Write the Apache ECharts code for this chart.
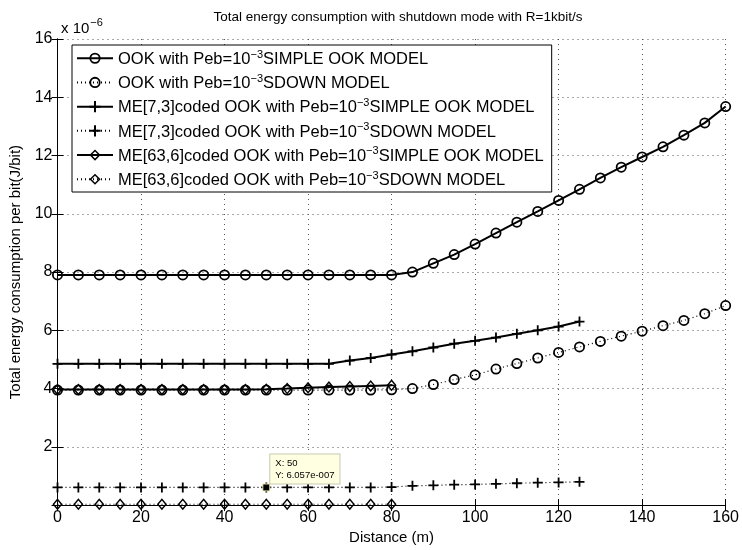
<!DOCTYPE html>
<html>
<head>
<meta charset="utf-8">
<script src="https://cdn.jsdelivr.net/npm/echarts@6/dist/echarts.min.js"></script>
<style>html,body{margin:0;padding:0;background:#fff}#c{width:742px;height:550px}</style>
</head>
<body>
<div id="c"></div>
<script>
// Distance (m)
const distance = [0,5,10,15,20,25,30,35,40,45,50,55,60,65,70,75,80,85,90,95,100,105,110,115,120,125,130,135,140,145,150,155,160];
// Energy values (x 1e-6 J/bit)
const ookSimple = [7.9,7.9,7.9,7.9,7.9,7.9,7.9,7.9,7.9,7.9,7.9,7.9,7.9,7.9,7.9,7.9,7.9,8.0,8.3,8.6,8.96,9.34,9.71,10.08,10.46,10.84,11.23,11.6,11.95,12.3,12.7,13.12,13.68];
const ookSdown = [3.95,3.95,3.95,3.95,3.95,3.95,3.95,3.95,3.95,3.95,3.95,3.95,3.95,3.95,3.95,3.95,3.96,4.0,4.14,4.31,4.47,4.67,4.86,5.05,5.24,5.43,5.62,5.8,5.97,6.16,6.34,6.57,6.85];
const me73Simple = [4.85,4.85,4.85,4.85,4.85,4.85,4.85,4.85,4.85,4.85,4.85,4.85,4.85,4.85,4.96,5.05,5.17,5.28,5.41,5.54,5.64,5.75,5.88,6.0,6.13,6.3];
const me73Sdown = [0.6057,0.6057,0.6057,0.6057,0.6057,0.6057,0.6057,0.6057,0.6057,0.6057,0.6057,0.6057,0.6057,0.6057,0.6057,0.6057,0.62,0.66,0.68,0.70,0.71,0.73,0.75,0.77,0.78,0.80];
const me636Simple = [3.97,3.97,3.97,3.97,3.97,3.97,3.97,3.97,3.97,3.97,3.98,4.0,4.03,4.05,4.07,4.09,4.11];
const me636Sdown = [0.03,0.03,0.03,0.03,0.03,0.03,0.03,0.03,0.03,0.03,0.03,0.03,0.03,0.03,0.03,0.03,0.03];
const xTicks = [0,20,40,60,80,100,120,140,160];
const yTicks = [0,2,4,6,8,10,12,14,16];
const seriesNames = [
  'OOK with Peb=10^-3SIMPLE OOK MODEL',
  'OOK with Peb=10^-3SDOWN MODEL',
  'ME[7,3]coded OOK with Peb=10^-3SIMPLE OOK MODEL',
  'ME[7,3]coded OOK with Peb=10^-3SDOWN MODEL',
  'ME[63,6]coded OOK with Peb=10^-3SIMPLE OOK MODEL',
  'ME[63,6]coded OOK with Peb=10^-3SDOWN MODEL'
];
const tipX = 50, tipY = 0.6057;

const pairs = (ys) => ys.map((y, i) => [distance[i], y]);
const RING = 'path://M0,-10A10,10,0,1,1,0,10A10,10,0,1,1,0,-10ZM0,-6.8A6.8,6.8,0,1,0,0,6.8A6.8,6.8,0,1,0,0,-6.8Z';
const PLUS = 'path://M-1.8,-10L1.8,-10L1.8,-1.8L10,-1.8L10,1.8L1.8,1.8L1.8,10L-1.8,10L-1.8,1.8L-10,1.8L-10,-1.8L-1.8,-1.8Z';
const DIAM = 'path://M0,-12L10,0L0,12L-10,0ZM0,-7.6L-6.3,0L0,7.6L6.3,0Z';
const FONT = '"Liberation Sans", Arial, Helvetica, sans-serif';

function mk(name, ys, symbol, size, dotted, extra) {
  return Object.assign({
    name: name, type: 'line', data: pairs(ys),
    symbol: symbol, symbolSize: size, showSymbol: true,
    lineStyle: dotted ? { color: '#000', width: 1.2, type: [1, 3] } : { color: '#000', width: 2, type: 'solid' },
    itemStyle: { color: '#000' },
    emphasis: { disabled: true },
    xAxisIndex: 0, yAxisIndex: 0, z: 3
  }, extra || {});
}

const chart = echarts.init(document.getElementById('c'), null, { renderer: 'canvas' });
chart.setOption({
  animation: false,
  backgroundColor: '#fff',
  textStyle: { fontFamily: FONT },
  title: [
    { text: 'Total energy consumption with shutdown mode with R=1kbit/s', left: 393, top: 5, textAlign: 'center',
      textStyle: { fontSize: 13.5, fontWeight: 'normal', color: '#000', fontFamily: FONT } },
    { text: '{a|x 10}{b|−6}', left: 56, top: 12,
      textStyle: { fontWeight: 'normal', rich: {
        a: { fontSize: 15, color: '#000', fontFamily: FONT, fontWeight: 'normal', verticalAlign: 'bottom' },
        b: { fontSize: 11, color: '#000', fontFamily: FONT, fontWeight: 'normal', verticalAlign: 'bottom', padding: [0, 0, 8, 1] } } } }
  ],
  grid: { left: 57.5, right: 14.5, top: 39, bottom: 43, containLabel: false },
  legend: {
    orient: 'vertical', left: 72, top: 45,
    data: seriesNames,
    itemWidth: 36, itemHeight: 14, itemGap: 5.2,
    padding: [4, 8, 3, 4],
    backgroundColor: '#fff', borderColor: '#000', borderWidth: 1,
    selectedMode: false,
    formatter: function (n) {
      const parts = n.split('^-3');
      return '{n|' + parts[0] + '}{s|−3}{n|' + parts[1] + '}';
    },
    textStyle: {
      rich: {
        n: { fontSize: 16.5, color: '#000', fontFamily: FONT, verticalAlign: 'bottom', lineHeight: 19.5 },
        s: { fontSize: 11, color: '#000', fontFamily: FONT, verticalAlign: 'bottom', padding: [0, 0, 8, 0], lineHeight: 12 }
      }
    }
  },
  xAxis: [
    { type: 'value', min: 0, max: 160, interval: 20, position: 'bottom',
      name: 'Distance (m)', nameLocation: 'middle', nameGap: 23,
      nameTextStyle: { fontSize: 15, color: '#000', fontFamily: FONT },
      axisLine: { show: true, lineStyle: { color: '#000', width: 1 } },
      axisTick: { show: true, inside: true, length: 6, lineStyle: { color: '#000' } },
      axisLabel: { fontSize: 16, color: '#000', margin: 4, fontFamily: FONT,
        formatter: v => xTicks.indexOf(v) >= 0 ? String(v) : '' },
      splitLine: { show: true, lineStyle: { color: '#555', width: 1, type: [1, 4] } } },
    { type: 'value', min: 0, max: 160, interval: 20, position: 'top',
      axisLine: { show: true, lineStyle: { color: '#000', width: 1 } },
      axisTick: { show: true, inside: true, length: 6, lineStyle: { color: '#000' } },
      axisLabel: { show: false }, splitLine: { show: false } }
  ],
  yAxis: [
    { type: 'value', min: 0, max: 16, interval: 2, position: 'left',
      name: 'Total energy consumption per bit(J/bit)', nameLocation: 'middle', nameGap: 32, nameRotate: 90,
      nameTextStyle: { fontSize: 15, color: '#000', fontFamily: FONT },
      axisLine: { show: true, lineStyle: { color: '#000', width: 1 } },
      axisTick: { show: true, inside: true, length: 6, lineStyle: { color: '#000' } },
      axisLabel: { fontSize: 16, color: '#000', margin: 5, fontFamily: FONT,
        formatter: v => (v === 0 || yTicks.indexOf(v) < 0) ? '' : String(v) },
      splitLine: { show: true, lineStyle: { color: '#555', width: 1, type: [1, 4] } } },
    { type: 'value', min: 0, max: 16, interval: 2, position: 'right',
      axisLine: { show: true, lineStyle: { color: '#000', width: 1 } },
      axisTick: { show: true, inside: true, length: 6, lineStyle: { color: '#000' } },
      axisLabel: { show: false }, splitLine: { show: false } }
  ],
  series: [
    mk(seriesNames[0], ookSimple, RING, 11, false),
    mk(seriesNames[1], ookSdown, RING, 11, true),
    mk(seriesNames[2], me73Simple, PLUS, 10, false),
    mk(seriesNames[3], me73Sdown, PLUS, 10, true, {
      markPoint: {
        silent: true, z: 20,
        data: [{ coord: [tipX, tipY], symbol: 'rect', symbolSize: 7, itemStyle: { color: '#000', borderColor: '#f4f0b0', borderWidth: 1 },
          label: { show: true, position: [8, -29], formatter: 'X: ' + tipX + '\nY: 6.057e-007',
            fontSize: 9.5, lineHeight: 12, color: '#000', fontFamily: FONT, align: 'left', verticalAlign: 'top',
            backgroundColor: '#ffffe1', borderColor: '#c8c8b0', borderWidth: 1, padding: [3, 5, 2, 5] } }]
      }
    }),
    mk(seriesNames[4], me636Simple, DIAM, [10, 12], false),
    mk(seriesNames[5], me636Sdown, DIAM, [10, 12], true)
  ]
});
</script>
</body>
</html>
